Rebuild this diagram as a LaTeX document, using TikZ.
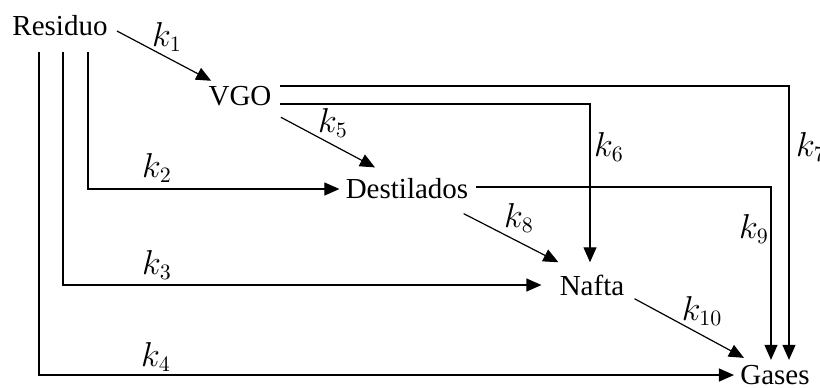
\documentclass[tikz,border=0pt]{standalone}
\usepackage{amsmath,amssymb}
\usepackage{fontspec}
\setmainfont{Liberation Serif}
\usepackage{tikz}
\usetikzlibrary{arrows.meta,calc}

\begin{document}
\begin{tikzpicture}[x=0.5pt, y=-0.5pt,
  >={Triangle[length=7.5pt,width=6.5pt]},
  especie/.style={inner sep=3pt, font=\fontsize{14.5}{17}\selectfont},
  constante/.style={inner sep=0pt, font=\fontsize{16}{18}\selectfont},
  flecha/.style={->, line width=0.6pt}]
\useasboundingbox (0,0) rectangle (820,387);

\node[especie] (residuo) at (60,26) {Residuo};
\node[especie] (vgo) at (240,96) {VGO};
\node[especie] (destilados) at (407,189) {Destilados};
\node[especie] (nafta) at (592,285) {Nafta};
\node[especie] (gases) at (775,375) {Gases};

\draw[flecha] ($(residuo.east)+(3,5)$) -- ($(vgo.north west)+(9,1)$);
\draw[flecha] ($(residuo.south)+(28,9)$) |- (destilados);
\draw[flecha] ($(residuo.south)+(3,9)$) |- ($(nafta.west)+(-12,0)$);
\draw[flecha] ($(residuo.south)+(-21,9)$) |- (gases);
\draw[flecha] ($(vgo.south east)+(3,5)$) -- ($(destilados.north)+(-32,-5)$);
\draw[flecha] ($(vgo.east)+(2,8)$) -| ($(nafta.north)+(-2,-6)$);
\draw[flecha] ($(vgo.east)+(2,-10)$) -| ($(gases.north)+(14,1)$);
\draw[flecha] ($(destilados.south east)+(-11,8)$) -- ($(nafta.north west)+(5,-6)$);
\draw[flecha] ($(destilados.east)+(1,-2)$) -| ($(gases.north)+(-4,1)$);
\draw[flecha] ($(nafta.south east)+(4,-3)$) -- ($(gases.north west)+(10,-1)$);

\node[constante] (k1) at (167,37) {$k_1$};
\node[constante] (k2) at (157,168) {$k_2$};
\node[constante] (k3) at (157,265) {$k_3$};
\node[constante] (k4) at (156,357) {$k_4$};
\node[constante] (k5) at (333,123) {$k_5$};
\node[constante] (k6) at (609,147) {$k_6$};
\node[constante] (k7) at (811,147) {$k_7$};
\node[constante] (k8) at (519,218) {$k_8$};
\node[constante] (k9) at (754,229) {$k_9$};
\node[constante] (k10) at (702,311) {$k_{10}$};
\end{tikzpicture}
\end{document}
